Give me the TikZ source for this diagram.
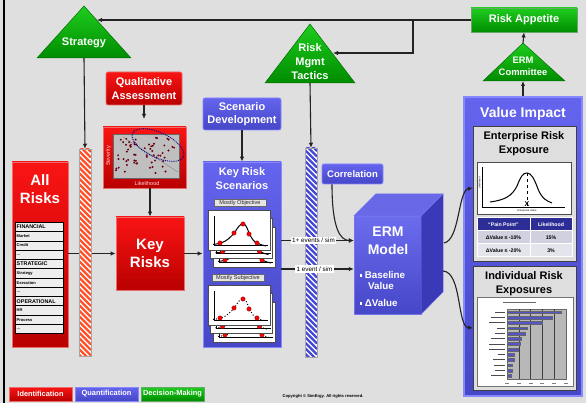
\documentclass[tikz,border=0pt]{standalone}
\usepackage{fontspec}
\setmainfont{Liberation Sans}
\usetikzlibrary{arrows.meta,calc}
\definecolor{bg}{RGB}{223,223,223}
\definecolor{rtop}{RGB}{250,20,20}
\definecolor{rbot}{RGB}{185,0,0}
\definecolor{redge}{RGB}{235,110,110}
\definecolor{btop}{RGB}{100,100,238}
\definecolor{bbot}{RGB}{70,70,200}
\definecolor{bedge}{RGB}{135,135,255}
\definecolor{gtop}{RGB}{30,205,30}
\definecolor{gbot}{RGB}{0,140,0}
\definecolor{gedge}{RGB}{0,110,0}
\definecolor{arrc}{RGB}{35,35,35}
\definecolor{hred}{RGB}{255,80,40}
\definecolor{hblue}{RGB}{70,70,215}
\definecolor{dotred}{RGB}{110,0,20}
\definecolor{panelgray}{RGB}{222,222,222}
\definecolor{thead}{RGB}{45,45,150}
\definecolor{trow}{RGB}{208,208,222}
\definecolor{trowb}{RGB}{228,228,236}
\definecolor{barblue}{RGB}{85,85,200}
\newcommand{\fz}[2]{\fontsize{#1}{#2}\selectfont}
\newcommand{\sqb}{\rule[0.25ex]{2.4pt}{2.4pt}}
\newcommand{\ddd}{...}
\newcommand{\kcard}[3]{%
 \begin{scope}[shift={(#1,#2)}]
  \fill[white,draw=black!70,line width=0.6pt] (0,0) rectangle (62,40);
  \draw[black,line width=0.9pt] (6,6) -- (6,35) -- (60,35);
  \draw[black,line width=1pt,#3] (5,34.5) .. controls (9,34) and (11,33.5) .. (13,33) .. controls (19,31) and (23,27) .. (27,22) .. controls (30,17) and (32,14) .. (35,14) .. controls (38,14) and (39,18) .. (41,23) .. controls (44,29) and (46,32) .. (49,33) .. controls (52,34.5) and (55,35.5) .. (58,36);
  \foreach \p in {(12,33),(26,23),(35,14),(41,24),(49,33)} \fill[red,draw=red!50!black,line width=0.3pt] \p circle (2.2);
 \end{scope}}
\begin{document}
\begin{tikzpicture}[x=1pt,y=-1pt,
 redbox/.style={draw=redge,line width=0.8pt,top color=rtop,bottom color=rbot,text=white,font=\bfseries,align=center,inner sep=0pt},
 bluebox/.style={draw=bedge,line width=0.8pt,top color=btop,bottom color=bbot,text=white,font=\bfseries,align=center,inner sep=0pt},
 greenbox/.style={draw=gedge!60!white,line width=0.8pt,top color=gtop,bottom color=gbot,text=white,font=\bfseries,align=center,inner sep=0pt},
 tritext/.style={text=white,font=\bfseries,align=center,inner sep=0pt},
 arr/.style={draw=arrc,line width=1.1pt,-{Latex[length=5pt,width=4.5pt]}},
 lab/.style={fill=white,font=\fz{6.3}{7},inner sep=1.2pt},
 subpanel/.style={fill=panelgray,draw=black!75,line width=1pt,inner sep=0pt},
 listrow/.style={fill=black!7,draw=black,line width=0.7pt},
 colframe/.style={draw=black!35,line width=0.5pt,inner sep=0pt},
]
\useasboundingbox (0,0) rectangle (586,403);
\fill[bg] (0,0) rectangle (586,403);
\draw[black,line width=2pt] (4,0) -- (4,403);

% ---------- coordinates ----------
\coordinate (stratR) at (97,20);
\coordinate (stratB) at (84,58);
\coordinate (tacR) at (333,53);
\coordinate (tacB) at (310,83);
\coordinate (br) at (413,20);
\coordinate (ecA) at (523,43);
\coordinate (ecB) at (523,81);
\coordinate (y1) at (0,240.5);
\coordinate (y2) at (0,269);
\coordinate (qaend) at (144,119);
\coordinate (e1) at (444,243);
\coordinate (e2) at (443,271);
\coordinate (t1) at (473,188);
\coordinate (t2) at (473,328);

% ---------- triangles ----------
\path[top color=gtop,bottom color=gbot,draw=gedge,line width=0.5pt] (84,6) -- (131,58) -- (37,58) -- cycle;
\node[tritext,font=\bfseries\fz{11}{13}] (strat) at (84,43) {Strategy};
\path[top color=gtop,bottom color=gbot,draw=gedge,line width=0.5pt] (310,24) -- (355,83) -- (265,83) -- cycle;
\node[tritext,font=\bfseries\fz{11}{14}] (tac) at (310,61.5) {Risk\\Mgmt\\Tactics};
\path[top color=gtop,bottom color=gbot,draw=gedge,line width=0.5pt] (523,43) -- (565,81) -- (483,81) -- cycle;
\node[tritext,font=\bfseries\fz{9.4}{11.5}] (ec) at (523,66.5) {ERM\\Committee};

% ---------- top boxes ----------
\node[greenbox,minimum width=106pt,minimum height=24pt,font=\bfseries\fz{11}{13}] (ra) at (524,20) {Risk Appetite};
\node[redbox,rounded corners=2pt,minimum width=76pt,minimum height=33pt,font=\bfseries\fz{11}{14}] (qa) at (144,88.5) {Qualitative\\Assessment};
\node[bluebox,rounded corners=2pt,minimum width=78pt,minimum height=32pt,font=\bfseries\fz{11}{13.5}] (sd) at (242,114) {Scenario\\Development};
\node[bluebox,rounded corners=2pt,minimum width=61pt,minimum height=20pt,font=\bfseries\fz{9.5}{11}] (corr) at (352.5,174) {Correlation};

% ---------- top connectors ----------
\draw[arr] (ra.west) -- (stratR);
\draw[arr] (br) |- (tacR);
\draw[arr] (ecA) -- (ra.south);

% ---------- All Risks ----------
\node[redbox,minimum width=56pt,minimum height=185pt] (ar) at (40,254.5) {};
\node[tritext,font=\bfseries\fz{15}{18}] (artitle) at (40,189) {All\\Risks};
\foreach \t/\b [count=\i from 0] in {FINANCIAL/1,Market/0,Credit/0,\ddd/0,STRATEGIC/1,Strategy/0,Execution/0,\ddd/0,OPERATIONAL/1,HR/0,Process/0,\ddd/0}{
  \draw[listrow] (15,222.3+\i*9.28) rectangle (63,231.58+\i*9.28);
  \ifnum\b=1
    \node[anchor=west,inner sep=0pt,font=\bfseries\fz{5.4}{6}] at (16.5,226.94+\i*9.28) {\t};
  \else
    \node[anchor=west,inner sep=0pt,font=\bfseries\fz{4}{5}] at (16.5,226.94+\i*9.28) {\t};
  \fi
}

% ---------- Key risks ----------
\node[redbox,minimum width=68pt,minimum height=73pt,font=\bfseries\fz{15}{17.5}] (kr) at (150,253.5) {Key\\Risks};

% ---------- scatter ----------
\node[redbox,minimum width=83pt,minimum height=61pt] (sc) at (144.5,157.5) {};
\fill[black!25,draw=black!60,line width=0.6pt] (113,134) rectangle (179,178);
\draw[black!45,line width=0.5pt] (123,137) -- (178,172);
\pgfmathsetseed{11}
\foreach \i in {1,...,62}{
  \pgfmathsetmacro{\dx}{116+60*rnd}
  \pgfmathsetmacro{\dy}{137+38*rnd}
  \fill[dotred] (\dx,\dy) circle (1.1);
}
\draw[blue!55!black,densely dotted,line width=0.9pt,rotate around={-25:(158,145)}] (158,145) ellipse (28 and 12.5);
\node[rotate=90,text=white!85!red,font=\fz{5.5}{6},inner sep=0pt] (sev) at (108.5,156) {Severity};
\node[text=white!85!red,font=\fz{5.5}{6},inner sep=0pt] (lik) at (147,184) {Likelihood};

% ---------- Key Risk Scenarios ----------
\node[bluebox,minimum width=78pt,minimum height=185pt] (krs) at (242,254.5) {};
\node[tritext,font=\bfseries\fz{11}{13.5}] (krstitle) at (242,178.5) {Key Risk\\Scenarios};
\node[fill=black!10,draw=black!60,line width=0.4pt,text=black!85,font=\fz{5.6}{6},inner sep=0.8pt,minimum width=52pt] (mo) at (240,203) {Mostly Objective};
\kcard{213}{227}{}
\kcard{210.5}{218.5}{}
\kcard{208}{210}{}
\node[fill=black!10,draw=black!60,line width=0.4pt,text=black!85,font=\fz{5.6}{6},inner sep=0.8pt,minimum width=52pt] (ms) at (238,278) {Mostly Subjective};
\kcard{213}{302}{dotted}
\kcard{210.5}{293.5}{dotted}
\kcard{208}{285}{dotted}

% ---------- connectors under columns ----------
\draw[arr] (ar.east |- kr.west) -- (kr.west);
\draw[arr] (kr.east) -- (krs.west |- kr.east);
\draw[arr] (qa.south) -- (qaend);
\draw[arr] (kr.north |- sc.south) -- (kr.north);
\draw[arr] (sd.south) -- (krs.north);

% ---------- ERM cube ----------
\node[inner sep=0pt,minimum width=67pt,minimum height=98pt,top color=btop!95!white,bottom color=bbot,draw=bedge!70!bbot,line width=0.4pt] (erm) at (387.5,265) {};
\path[fill={rgb,255:red,105;green,105;blue,232},draw=bedge!70!bbot,line width=0.4pt] (erm.north west) -- ++(22,-22) -- ++(67,0) -- (erm.north east) -- cycle;
\path[fill={rgb,255:red,58;green,58;blue,185},draw=bedge!70!bbot,line width=0.4pt] (erm.north east) -- ++(22,-22) -- ++(0,98) -- (erm.south east) -- cycle;
\node[tritext,font=\bfseries\fz{14}{18}] (ermt) at (388,241) {ERM\\Model};
\node[anchor=west,tritext,font=\bfseries\fz{9.8}{11}] (b1) at (359.5,274.5) {\sqb\ Baseline};
\node[anchor=west,tritext,font=\bfseries\fz{9.8}{11}] (b2) at (368,286) {Value};
\node[anchor=west,tritext,font=\bfseries\fz{9.8}{11}] (b3) at (359.5,302.5) {\sqb\ ΔValue};

% arrows into ERM
\draw[arr] (krs.east |- y1) -- (erm.west |- y1);
\draw[arr] (krs.east |- y2) -- (erm.west |- y2);
\draw[arr] ([xshift=-20.5pt]corr.south) .. controls (332,228) and (340,240.5) .. (erm.west |- y1);

% ---------- hatched columns ----------
\node[colframe,minimum width=12pt,minimum height=207pt] (colR) at (85,252.5) {};
\begin{scope}
\clip (79,149) rectangle (91,356);
\fill[white] (79,149) rectangle (91,356);
\foreach \k in {0,...,40}{\draw[hred,line width=2.2pt] (79,140+\k*5.5) -- (91,152+\k*5.5);}
\end{scope}
\draw[black!35,line width=0.5pt] (79,149) rectangle (91,356);
\node[colframe,minimum width=12pt,minimum height=209pt] (colB) at (311,252.5) {};
\begin{scope}
\clip (305,148) rectangle (317,357);
\fill[white] (305,148) rectangle (317,357);
\foreach \k in {0,...,40}{\draw[hblue,line width=2.2pt] (305,139+\k*5.5) -- (317,151+\k*5.5);}
\end{scope}
\draw[black!35,line width=0.5pt] (305,148) rectangle (317,357);
\draw[arr] (stratB) -- (colR.north);
\draw[arr] (tacB) -- (colB.north);

% labels on arrows
\node[lab] (l1) at (313.5,240.5) {1+ events / sim};
\node[lab] (l2) at (314.5,269) {1 event / sim};

% ---------- Value Impact ----------
\node[inner sep=0pt,minimum width=118pt,minimum height=299pt,top color=btop,bottom color=bbot,draw=bedge,line width=2pt] (vi) at (523,246.5) {};
\node[tritext,font=\bfseries\fz{14}{16}] (vit) at (523,114) {Value Impact};
\draw[arr] (vi.north) -- (ecB);

\node[subpanel,minimum width=103pt,minimum height=135pt] (erp) at (524.5,194.5) {};
\node[font=\bfseries\fz{11}{14},align=center,inner sep=0pt] (erpt) at (524,144) {Enterprise Risk\\Exposure};
% chart
\node[fill=white,draw=black!70,line width=0.7pt,minimum width=94pt,minimum height=52pt,inner sep=0pt] (ch) at (524,188) {};
\draw[black,line width=0.8pt] (482,167) -- (482,207) -- (565,207);
\draw[black,line width=1pt] (490,202) .. controls (505,200) and (512,196) .. (517,186) .. controls (521,176) and (523,173) .. (527,173) .. controls (531,173) and (534,178) .. (538,189) .. controls (542,199) and (547,201) .. (552,203);
\draw[black,line width=0.9pt,dashed] (527,173) -- (527,207);
\node[font=\bfseries\fz{7}{7},inner sep=0pt] (xm) at (527,204) {X};
\node[font=\fz{2.6}{3},inner sep=0pt] (evl) at (527,211) {Enterprise Value};
\node[rotate=90,font=\fz{2.6}{3},inner sep=0pt] (lkl) at (479.5,183) {Likelihood};
% table
\fill[thead] (477,218) rectangle (572,231);
\fill[trow] (477,231) rectangle (572,244);
\fill[trowb] (477,244) rectangle (572,257);
\draw[white,line width=1pt] (477,218) rectangle (572,257) (477,231) -- (572,231) (477,244) -- (572,244) (530,218) -- (530,257);
\node[text=white,font=\bfseries\fz{5.2}{6},inner sep=0pt] (th1) at (503.5,224.5) {“Pain Point”};
\node[text=white,font=\bfseries\fz{5.2}{6},inner sep=0pt] (th2) at (551,224.5) {Likelihood};
\node[font=\bfseries\fz{5.2}{6},inner sep=0pt] (r11) at (503.5,237.5) {ΔValue ≤ -10\%};
\node[font=\bfseries\fz{5.2}{6},inner sep=0pt] (r12) at (551,237.5) {15\%};
\node[font=\bfseries\fz{5.2}{6},inner sep=0pt] (r21) at (503.5,250.5) {ΔValue ≤ -20\%};
\node[font=\bfseries\fz{5.2}{6},inner sep=0pt] (r22) at (551,250.5) {3\%};

\node[subpanel,minimum width=103pt,minimum height=123pt] (irp) at (524.5,328.5) {};
\node[font=\bfseries\fz{11}{14},align=center,inner sep=0pt] (irpt) at (524,284) {Individual Risk\\Exposures};
% bar chart
\node[fill=white,draw=black!55,line width=0.8pt,minimum width=96pt,minimum height=89pt,inner sep=0pt] (bc) at (525,341.5) {};
\fill[black!28,draw=black!60,line width=0.5pt] (507,309) rectangle (566,379);
\foreach \gx in {518.8,530.6,542.4,554.2}{\draw[black!75,line width=0.6pt] (\gx,309) -- (\gx,379);}
\foreach \len/\ll [count=\i from 0] in {561/10,552/14,542/16,527/8,525/10,521/14,520/16,518/16,514/7,514/12,512/11,512/10,511/14}{
  \fill[barblue,draw=black!60,line width=0.3pt] (507,310.8+\i*5.3) rectangle (\len,313.6+\i*5.3);
  \draw[black!70,line width=0.9pt] (505-\ll,312.2+\i*5.3) -- (505,312.2+\i*5.3);
}
\draw[black!60,line width=0.8pt] (503,302) -- (536,302);
\foreach \gx in {507,518.8,530.6,542.4,554.2,566}{\draw[black!50,line width=0.7pt] (\gx-2,383) -- (\gx+2,383);}

% ERM -> value impact
\draw[arr] (e1) .. controls (460,240) and (458,190) .. (t1);
\draw[arr] (e2) .. controls (462,272) and (457,327) .. (t2);

% ---------- legend ----------
\node[redbox,minimum width=63pt,minimum height=14pt,font=\bfseries\fz{7.4}{8}] (lgid) at (40.5,394) {Identification};
\node[bluebox,minimum width=63pt,minimum height=14pt,font=\bfseries\fz{7.4}{8}] (lgqu) at (106.5,394) {Quantification};
\node[greenbox,minimum width=63pt,minimum height=14pt,font=\bfseries\fz{7.4}{8}] (lgdm) at (172.5,394) {Decision-Making};
\node[font=\bfseries\fz{4.1}{5},inner sep=0pt] (cr) at (323,396) {Copyright © SimErgy. All rights reserved.};
\end{tikzpicture}
\end{document}
